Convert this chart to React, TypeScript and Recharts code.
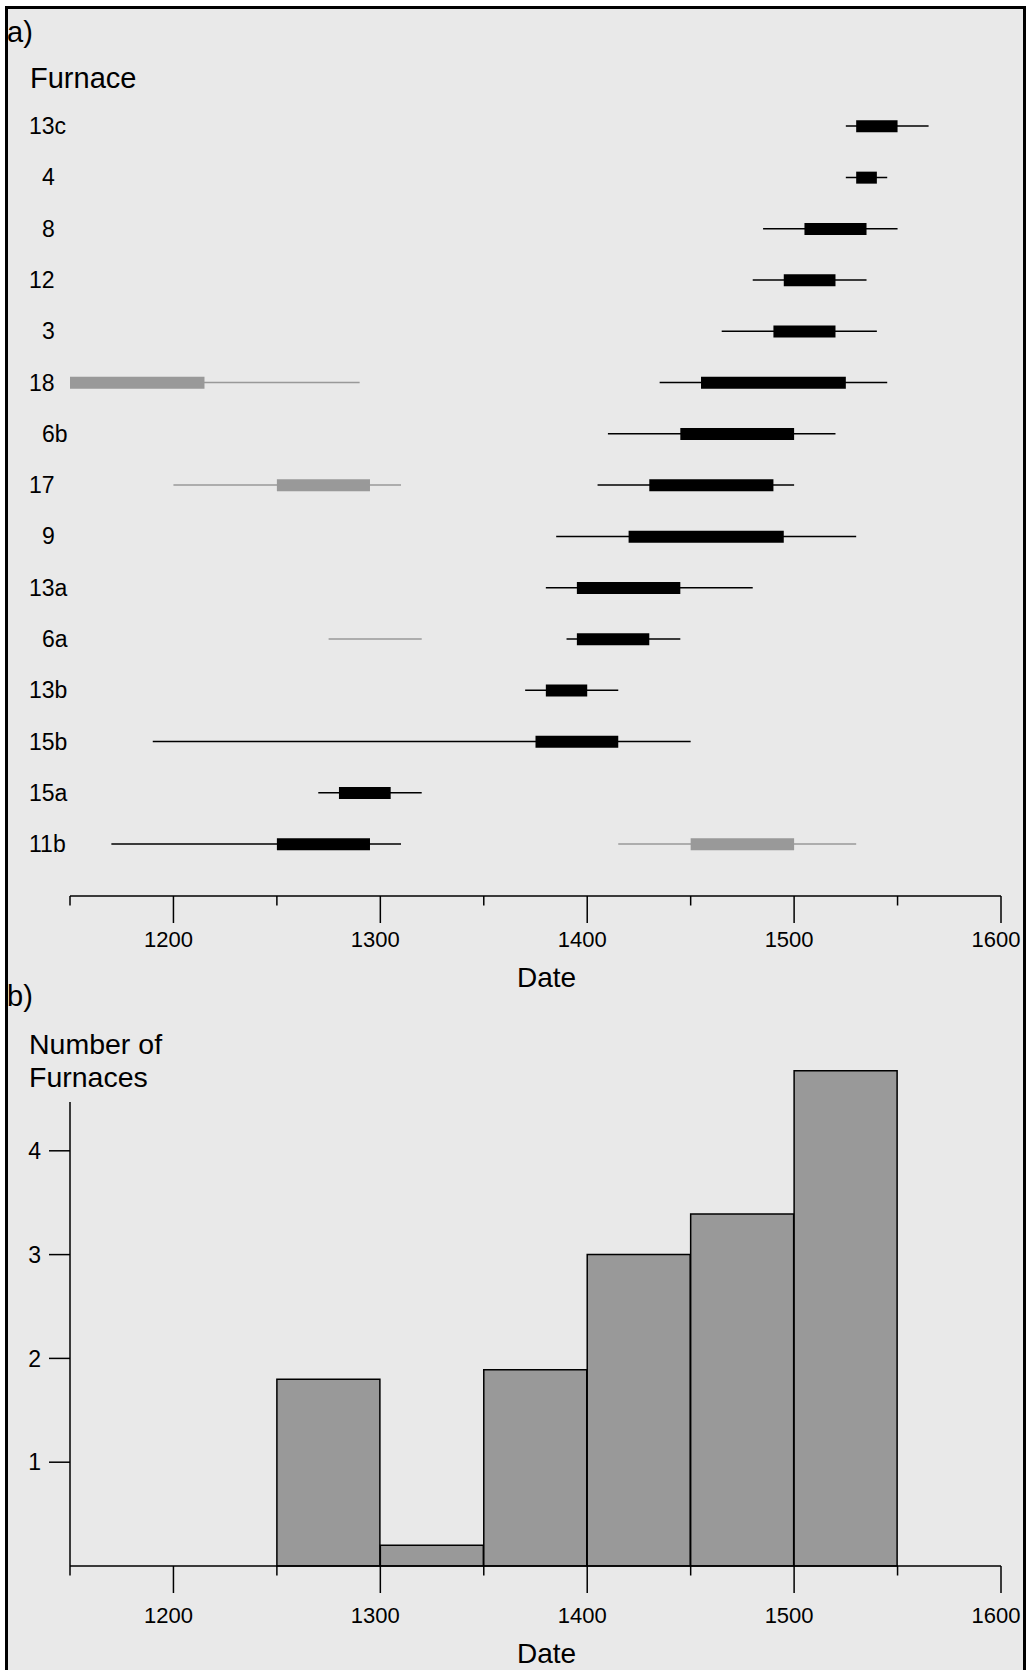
import React from 'react';
import { BarChart, Bar, XAxis, YAxis, ReferenceLine } from 'recharts';

// ---------- Panel a) : furnace date ranges ----------
const furnaces = ['13c', '4', '8', '12', '3', '18', '6b', '17', '9', '13a', '6a', '13b', '15b', '15a', '11b'];
const blackLineStart = [1525, 1525, 1485, 1480, 1465, 1435, 1410, 1405, 1385, 1380, 1390, 1370, 1190, 1270, 1170];
const blackLineEnd = [1565, 1545, 1550, 1535, 1540, 1545, 1520, 1500, 1530, 1480, 1445, 1415, 1450, 1320, 1310];
const blackBoxStart = [1530, 1530, 1505, 1495, 1490, 1455, 1445, 1430, 1420, 1395, 1395, 1380, 1375, 1280, 1250];
const blackBoxEnd = [1550, 1540, 1535, 1520, 1520, 1525, 1500, 1490, 1495, 1445, 1430, 1400, 1415, 1305, 1295];
const grayLineStart = [null, null, null, null, null, 1150, null, 1200, null, null, 1275, null, null, null, 1415];
const grayLineEnd = [null, null, null, null, null, 1290, null, 1310, null, null, 1320, null, null, null, 1530];
const grayBoxStart = [null, null, null, null, null, 1150, null, 1250, null, null, null, null, null, null, 1450];
const grayBoxEnd = [null, null, null, null, null, 1215, null, 1295, null, null, null, null, null, null, 1500];

// ---------- Panel b) : histogram ----------
const binStarts = [1250, 1300, 1350, 1400, 1450, 1500];
const binCounts = [1.8, 0.2, 1.89, 3.0, 3.39, 4.77];
const BIN_WIDTH = 50;

// ---------- axes ----------
const dateDomain = [1150, 1600];
const dateTicks = [1150, 1200, 1250, 1300, 1350, 1400, 1450, 1500, 1550, 1600];
const countTicks = [1, 2, 3, 4];
const countDomain = [0, 5];
const countAxisTop = 4.47;

const pair = (a: number | null, b: number | null) => (a == null || b == null ? null : [a, b]);

const rangeData = furnaces.map((f, i) => ({
  furnace: f,
  blackLine: pair(blackLineStart[i], blackLineEnd[i]),
  blackBox: pair(blackBoxStart[i], blackBoxEnd[i]),
  grayLine: pair(grayLineStart[i], grayLineEnd[i]),
  grayBox: pair(grayBoxStart[i], grayBoxEnd[i]),
}));

const histData = binStarts.map((s, i) => ({ mid: s + BIN_WIDTH / 2, count: binCounts[i] }));

const FONT = '"Liberation Sans", Arial, Helvetica, sans-serif';
const GRAY = '#999999';
const BG = '#e9e9e9';

const DateTick = (props: any) => {
  const { x, y, payload, labelOffset } = props;
  const v = payload.value;
  const major = v % 100 === 0;
  return (
    <g>
      <line x1={x} x2={x} y1={y} y2={y + (major ? 27 : 9.5)} stroke="#000" strokeWidth={1.5} />
      {major && (
        <text x={x - 5} y={y + labelOffset} textAnchor="middle" fontSize={22} fill="#000" fontFamily={FONT}>
          {v}
        </text>
      )}
    </g>
  );
};

const FurnaceTick = (props: any) => {
  const { y, payload } = props;
  const label = String(payload.value);
  const indent = /^\d(?!\d)/.test(label) ? 13 : 0;
  return (
    <text x={29 + indent} y={y} dy="0.355em" fontSize={23} fill="#000" fontFamily={FONT}>
      {label}
    </text>
  );
};

const rowPadding = { top: 0, bottom: 26.36 };

export default function App() {
  return (
    <div
      style={{
        position: 'absolute',
        left: 0,
        top: 0,
        width: 1027,
        height: 1670,
        overflow: 'hidden',
        background: '#fff',
        fontFamily: FONT,
      }}
    >
      <div
        style={{
          position: 'absolute',
          left: 5,
          top: 6,
          width: 1015,
          height: 1670,
          border: '3px solid #000',
          background: BG,
        }}
      />

      {/* Panel a */}
      <div style={{ position: 'absolute', left: 0, top: 0 }}>
        <BarChart
          width={1027}
          height={1000}
          data={rangeData}
          layout="vertical"
          margin={{ top: 100.36, right: 26, bottom: 0, left: 0 }}
          style={{ fontFamily: FONT }}
        >
          <XAxis
            type="number"
            domain={dateDomain}
            ticks={dateTicks}
            interval={0}
            height={104}
            tickSize={0}
            tickMargin={0}
            tickLine={false}
            axisLine={{ stroke: '#000', strokeWidth: 1.5 }}
            tick={(p: any) => <DateTick {...p} labelOffset={51.3} />}
            label={{ value: 'Date', position: 'insideBottom', offset: 13.3, dx: 11, fill: '#000', fontSize: 28, fontFamily: FONT }}
          />
          <YAxis
            yAxisId="rows"
            type="category"
            dataKey="furnace"
            width={70}
            axisLine={false}
            tickLine={false}
            interval={0}
            padding={rowPadding}
            tick={(p: any) => <FurnaceTick {...p} />}
          />
          <YAxis yAxisId="r2" type="category" dataKey="furnace" hide padding={rowPadding} />
          <YAxis yAxisId="r3" type="category" dataKey="furnace" hide padding={rowPadding} />
          <YAxis yAxisId="r4" type="category" dataKey="furnace" hide padding={rowPadding} />
          <Bar yAxisId="r3" dataKey="grayLine" fill={GRAY} barSize={1.5} isAnimationActive={false} />
          <Bar yAxisId="r4" dataKey="grayBox" fill={GRAY} barSize={12} isAnimationActive={false} />
          <Bar yAxisId="rows" dataKey="blackLine" fill="#000" barSize={1.5} isAnimationActive={false} />
          <Bar yAxisId="r2" dataKey="blackBox" fill="#000" barSize={12} isAnimationActive={false} />
        </BarChart>
      </div>

      {/* Panel b */}
      <div style={{ position: 'absolute', left: 0, top: 1000 }}>
        <BarChart
          width={1027}
          height={670}
          data={histData}
          margin={{ top: 47, right: 26, bottom: 0, left: 0 }}
          barCategoryGap={0}
          barGap={0}
          style={{ fontFamily: FONT }}
        >
          <XAxis
            type="number"
            dataKey="mid"
            domain={dateDomain}
            ticks={dateTicks}
            interval={0}
            height={104}
            tickSize={0}
            tickMargin={0}
            tickLine={false}
            axisLine={{ stroke: '#000', strokeWidth: 1.5 }}
            tick={(p: any) => <DateTick {...p} labelOffset={57.3} />}
            label={{ value: 'Date', position: 'insideBottom', offset: 6.7, dx: 11, fill: '#000', fontSize: 28, fontFamily: FONT }}
          />
          <YAxis
            type="number"
            domain={countDomain}
            ticks={countTicks}
            interval={0}
            width={70}
            axisLine={false}
            tickSize={21}
            tickMargin={8}
            tickLine={{ stroke: '#000', strokeWidth: 1.5 }}
            tick={{ fill: '#000', fontSize: 23, fontFamily: FONT }}
          />
          <ReferenceLine
            segment={[
              { x: dateDomain[0], y: 0 },
              { x: dateDomain[0], y: countAxisTop },
            ]}
            stroke="#000"
            strokeWidth={1.5}
          />
          <Bar dataKey="count" fill={GRAY} stroke="#000" strokeWidth={1.5} isAnimationActive={false} />
        </BarChart>
      </div>

      {/* panel titles */}
      <svg
        width={1027}
        height={1670}
        style={{ position: 'absolute', left: 0, top: 0, pointerEvents: 'none' }}
        fontFamily={FONT}
        fill="#000"
      >
        <text x={7} y={42.4} fontSize={29}>a)</text>
        <text x={30} y={88.3} fontSize={29}>Furnace</text>
        <text x={7} y={1005.8} fontSize={29}>b)</text>
        <text x={29} y={1054} fontSize={28.5}>Number of</text>
        <text x={29} y={1086.7} fontSize={28.5}>Furnaces</text>
      </svg>
    </div>
  );
}
